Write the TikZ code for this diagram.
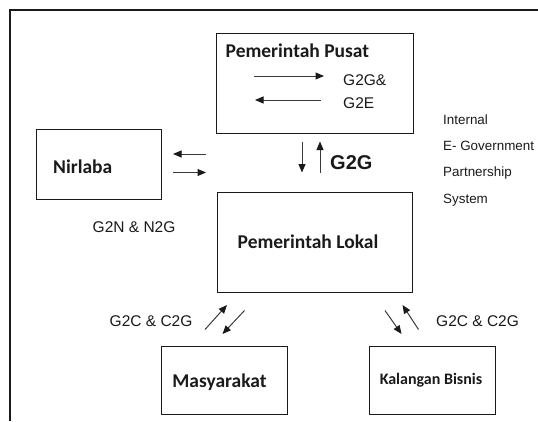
\documentclass[tikz,border=0pt]{standalone}
\usepackage{fontspec}
\setmainfont{Liberation Sans}
\newfontfamily\boxfont{Carlito}
\usetikzlibrary{arrows.meta}
\definecolor{chartink}{HTML}{1A1A1A}
\definecolor{flowgrey}{HTML}{3A3A3A}

\begin{document}
\begin{tikzpicture}[
  x=1pt,
  y=-1pt,
  every node/.style={text=chartink, inner sep=0pt},
  frame/.style={chartink, line width=1.4pt},
  entity/.style={draw=chartink, line width=0.9pt},
  boxlabel/.style={font=\boxfont\bfseries\fontsize{19.5}{22}\selectfont},
  flow/.style={flowgrey, line width=1pt,
    -{Triangle[length=8.5pt, width=7pt, color=chartink, fill=chartink]}},
  flowlabel/.style={font=\fontsize{15.5}{18}\selectfont, anchor=west},
  note/.style={font=\fontsize{13.4}{16}\selectfont, anchor=west}
]
  % ---- page and the two frame edges -----------------------------------
  \useasboundingbox (0,0) rectangle (538,421);
  \draw[frame] (10,421) -- (10,10) -- (538,10);

  % ---- the five boxes -------------------------------------------------
  \node[entity, minimum width=197pt, minimum height=100pt] (pusat)
    at (314.5,83) {};
  \node[entity, minimum width=125pt, minimum height=70pt] (nirlaba)
    at (99,164.5) {};
  \node[entity, minimum width=195pt, minimum height=100pt] (lokal)
    at (314.5,242) {};
  \node[entity, minimum width=126pt, minimum height=68pt] (masyarakat)
    at (224.5,380.5) {};
  \node[entity, minimum width=126pt, minimum height=68pt] (bisnis)
    at (432,380.5) {};

  % ---- box titles -----------------------------------------------------
  \node[boxlabel, anchor=west] (pusattitle) at (225.5,51) {Pemerintah Pusat};
  \node[boxlabel, anchor=west] (nirlabatitle) at (53,167) {Nirlaba};
  \node[boxlabel] (lokaltitle) at (308,242) {Pemerintah Lokal};
  \node[boxlabel] (masyarakattitle) at (219.5,382) {Masyarakat};
  \node[boxlabel, font=\boxfont\bfseries\fontsize{16}{18}\selectfont]
    (bisnistitle) at (431,380.5) {Kalangan Bisnis};

  % ---- arrow ends -----------------------------------------------------
  \coordinate (pp1a) at (254,76);   \coordinate (pp1b) at (324,76);
  \coordinate (pp2a) at (321,100);  \coordinate (pp2b) at (255,100);
  \coordinate (nl1a) at (206,154);  \coordinate (nl1b) at (173,154);
  \coordinate (nl2a) at (173,172.5);\coordinate (nl2b) at (206,172.5);
  \coordinate (vd1a) at (302,141.5);\coordinate (vd1b) at (302,172.5);
  \coordinate (vd2a) at (320,172.5);\coordinate (vd2b) at (320,141.5);
  \coordinate (ml1a) at (205,329.5);\coordinate (ml1b) at (227,305);
  \coordinate (ml2a) at (244.5,310.5);\coordinate (ml2b) at (222.5,334);
  \coordinate (bs1a) at (385,310.5);\coordinate (bs1b) at (401.5,334);
  \coordinate (bs2a) at (418.5,329.5);\coordinate (bs2b) at (402.5,305);

  % ---- arrows ---------------------------------------------------------
  \draw[flow] (pp1a) -- (pp1b);
  \draw[flow] (pp2a) -- (pp2b);
  \draw[flow] (nl1a) -- (nl1b);
  \draw[flow] (nl2a) -- (nl2b);
  \draw[flow] (vd1a) -- (vd1b);
  \draw[flow] (vd2a) -- (vd2b);
  \draw[flow] (ml1a) -- (ml1b);
  \draw[flow] (ml2a) -- (ml2b);
  \draw[flow] (bs1a) -- (bs1b);
  \draw[flow] (bs2a) -- (bs2b);

  % ---- flow labels ----------------------------------------------------
  \node[flowlabel] (g2ge) at (343,80) {G2G\&};
  \node[flowlabel] (g2e) at (343,103.5) {G2E};
  \node[flowlabel, font=\bfseries\fontsize{20}{24}\selectfont]
    (g2g) at (330,163) {G2G};
  \node[flowlabel] (g2n) at (92.5,227.5) {G2N \& N2G};
  \node[flowlabel] (g2cleft) at (109.5,321) {G2C \& C2G};
  \node[flowlabel] (g2cright) at (436,321) {G2C \& C2G};

  % ---- side note, one line each ---------------------------------------
  \node[note] (internal) at (443,120) {Internal};
  \node[note] (egov) at (443,146) {E- Government};
  \node[note] (partner) at (443,173) {Partnership};
  \node[note] (system) at (443,200) {System};

\end{tikzpicture}
\end{document}
